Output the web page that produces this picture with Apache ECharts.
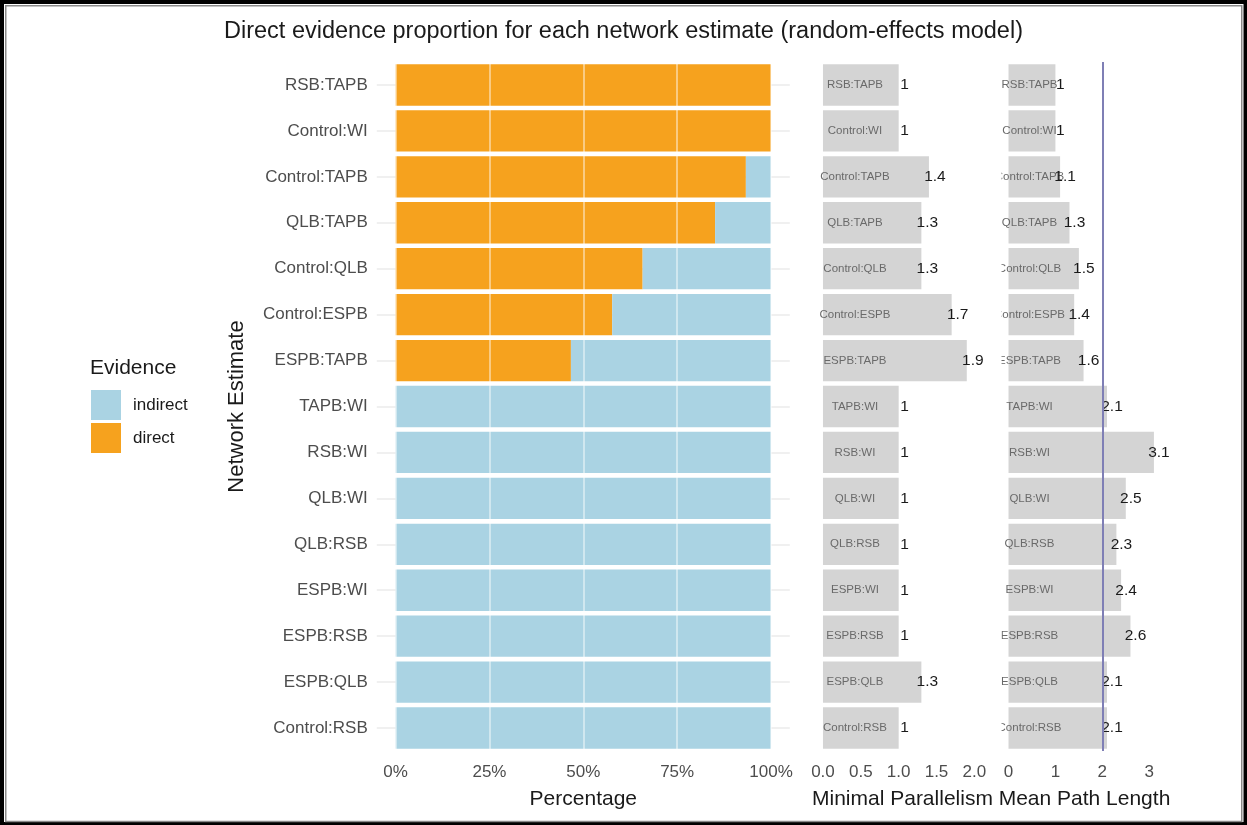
<!DOCTYPE html>
<html>
<head>
<meta charset="utf-8">
<title>Direct evidence proportion</title>
<script src="https://cdn.jsdelivr.net/npm/echarts@6/dist/echarts.min.js"></script>
<style>
  html, body { margin: 0; padding: 0; background: #ffffff; }
  #chart { width: 1247px; height: 825px; }
</style>
</head>
<body>
<div id="chart"></div>
<script>
// Network comparisons, top to bottom
const comparisons = ['RSB:TAPB', 'Control:WI', 'Control:TAPB', 'QLB:TAPB', 'Control:QLB',
  'Control:ESPB', 'ESPB:TAPB', 'TAPB:WI', 'RSB:WI', 'QLB:WI', 'QLB:RSB', 'ESPB:WI',
  'ESPB:RSB', 'ESPB:QLB', 'Control:RSB'];

// Share of each estimate coming from direct / indirect evidence (%)
const directPct   = [100, 100, 93.3, 85.1, 65.8, 57.7, 46.7, 0, 0, 0, 0, 0, 0, 0, 0];
const indirectPct = [0, 0, 6.7, 14.9, 34.2, 42.3, 53.3, 100, 100, 100, 100, 100, 100, 100, 100];

// Minimal parallelism and mean path length per comparison
const minimalParallelism = [1, 1, 1.4, 1.3, 1.3, 1.7, 1.9, 1, 1, 1, 1, 1, 1, 1.3, 1];
const meanPathLength     = [1, 1, 1.1, 1.3, 1.5, 1.4, 1.6, 2.1, 3.1, 2.5, 2.3, 2.4, 2.6, 2.1, 2.1];

// Tick values for the three panels
const pctTicks = [0, 25, 50, 75, 100];
const mpTicks  = [0, 0.5, 1, 1.5, 2];
const mplTicks = [0, 1, 2, 3];
const mplReference = 2;

const FONT = 'Liberation Sans, Arial, sans-serif';
const ORANGE = '#F6A21E';
const LIGHTBLUE = '#AAD3E3';
const GREY = '#D4D4D4';
const TICK_COLOR = '#4d4d4d';

const chart = echarts.init(document.getElementById('chart'), null, { renderer: 'canvas' });

const gridTop = 62, gridHeight = 689;

function hiddenCategoryAxis(gridIndex) {
  return {
    type: 'category', gridIndex: gridIndex, data: comparisons, inverse: true,
    axisLine: { show: false }, axisTick: { show: false }, axisLabel: { show: false },
    splitLine: { show: false }
  };
}

const nameLabel = (offsetX) => ({
  show: true,
  position: [offsetX, '50%'],
  align: 'center', verticalAlign: 'middle',
  formatter: (p) => p.name,
  fontFamily: FONT, fontSize: 11.5, color: '#6a6a6a'
});

const valueLabel = (dx) => ({
  show: true,
  position: ['100%', '50%'],
  offset: [dx, 0],
  align: 'center', verticalAlign: 'middle',
  formatter: (p) => String(p.value),
  fontFamily: FONT, fontSize: 15.5, color: '#1a1a1a'
});

const option = {
  animation: false,
  backgroundColor: '#ffffff',
  textStyle: { fontFamily: FONT },
  title: [
    {
      text: 'Direct evidence proportion for each network estimate (random-effects model)',
      left: 'center', top: 20, padding: 0,
      textStyle: { fontFamily: FONT, fontSize: 23.5, fontWeight: 'normal', color: '#1a1a1a' }
    },
    {
      text: 'Evidence', left: 90, top: 358, padding: 0,
      textStyle: { fontFamily: FONT, fontSize: 21, fontWeight: 'normal', color: '#1a1a1a' }
    }
  ],
  legend: {
    data: ['indirect', 'direct'],
    orient: 'vertical', left: 91, top: 390, padding: 0,
    itemWidth: 30, itemHeight: 30, itemGap: 3,
    icon: 'rect',
    textStyle: { fontFamily: FONT, fontSize: 17, color: '#1a1a1a', padding: [0, 0, 0, 7] },
    selectedMode: false
  },
  grid: [
    { left: 376.8, width: 413, top: gridTop, height: gridHeight },
    { left: 815.4, width: 174.1, top: gridTop, height: gridHeight },
    { left: 1001, width: 167, top: gridTop, height: gridHeight }
  ],
  xAxis: [
    {
      type: 'value', gridIndex: 0, min: -5, max: 105, z: 5,
      name: 'Percentage', nameLocation: 'middle', nameGap: 38,
      nameTextStyle: { fontFamily: FONT, fontSize: 21, color: '#1a1a1a' },
      axisLine: { show: false },
      axisTick: { show: false, customValues: pctTicks },
      axisLabel: { customValues: pctTicks, formatter: (v) => v + '%', margin: 13,
        fontFamily: FONT, fontSize: 17, color: TICK_COLOR },
      splitLine: { show: true, lineStyle: { color: 'rgba(255,255,255,0.6)', width: 1.5 } }
    },
    {
      type: 'value', gridIndex: 1, min: -0.1, max: 2.2,
      name: 'Minimal Parallelism', nameLocation: 'middle', nameGap: 38,
      nameTextStyle: { fontFamily: FONT, fontSize: 21, color: '#1a1a1a' },
      axisLine: { show: false },
      axisTick: { show: false, customValues: mpTicks },
      axisLabel: { customValues: mpTicks, formatter: (v) => v.toFixed(1), margin: 13,
        fontFamily: FONT, fontSize: 17, color: TICK_COLOR },
      splitLine: { show: false }
    },
    {
      type: 'value', gridIndex: 2, min: -0.16, max: 3.4,
      name: 'Mean Path Length', nameLocation: 'middle', nameGap: 38,
      nameTextStyle: { fontFamily: FONT, fontSize: 21, color: '#1a1a1a' },
      axisLine: { show: false },
      axisTick: { show: false, customValues: mplTicks },
      axisLabel: { customValues: mplTicks, formatter: (v) => String(v), margin: 13,
        fontFamily: FONT, fontSize: 17, color: TICK_COLOR },
      splitLine: { show: false }
    }
  ],
  yAxis: [
    {
      type: 'category', gridIndex: 0, data: comparisons, inverse: true,
      name: 'Network Estimate', nameLocation: 'middle', nameGap: 129, nameRotate: 90,
      nameTextStyle: { fontFamily: FONT, fontSize: 22, color: '#1a1a1a' },
      axisLine: { show: false }, axisTick: { show: false },
      axisLabel: { margin: 9, fontFamily: FONT, fontSize: 17, color: TICK_COLOR },
      splitLine: { show: true, alignWithLabel: true, lineStyle: { color: '#EBEBEB', width: 1.5 } }
    },
    hiddenCategoryAxis(1),
    hiddenCategoryAxis(2)
  ],
  series: [
    {
      name: 'direct', type: 'bar', stack: 'evidence', xAxisIndex: 0, yAxisIndex: 0,
      data: directPct, barCategoryGap: '10%',
      itemStyle: { color: ORANGE }
    },
    {
      name: 'indirect', type: 'bar', stack: 'evidence', xAxisIndex: 0, yAxisIndex: 0,
      data: indirectPct, barCategoryGap: '10%',
      itemStyle: { color: LIGHTBLUE }
    },
    {
      name: 'Minimal Parallelism', type: 'bar', xAxisIndex: 1, yAxisIndex: 1,
      data: minimalParallelism, barCategoryGap: '10%', barGap: '-100%',
      itemStyle: { color: GREY },
      label: nameLabel(32)
    },
    {
      name: 'Minimal Parallelism value', type: 'bar', xAxisIndex: 1, yAxisIndex: 1,
      data: minimalParallelism, barCategoryGap: '10%', barGap: '-100%',
      itemStyle: { color: 'rgba(0,0,0,0)' },
      label: valueLabel(6)
    },
    {
      name: 'Mean Path Length', type: 'bar', xAxisIndex: 2, yAxisIndex: 2,
      data: meanPathLength, barCategoryGap: '10%', barGap: '-100%',
      itemStyle: { color: GREY },
      label: nameLabel(21),
      markLine: {
        silent: true, symbol: 'none', label: { show: false },
        lineStyle: { color: '#7F7FB5', width: 2, type: 'solid' },
        data: [{ xAxis: mplReference }]
      }
    },
    {
      name: 'Mean Path Length value', type: 'bar', xAxisIndex: 2, yAxisIndex: 2,
      data: meanPathLength, barCategoryGap: '10%', barGap: '-100%',
      itemStyle: { color: 'rgba(0,0,0,0)' },
      label: valueLabel(5),
      z: 4
    }
  ],
  graphic: [
    // keeps the right panel's row names inside their panel
    { type: 'rect', z: 50, shape: { x: 988, y: gridTop, width: 13.5, height: gridHeight },
      style: { fill: '#ffffff' }, silent: true },
    // double frame around the figure
    { type: 'rect', z: 100, shape: { x: 2, y: 2, width: 1243.5, height: 822 },
      style: { fill: 'none', stroke: '#000000', lineWidth: 4 }, silent: true },
    { type: 'rect', z: 100, shape: { x: 5.75, y: 5.75, width: 1236, height: 815.75 },
      style: { fill: 'none', stroke: '#8a8a8a', lineWidth: 1.5 }, silent: true }
  ]
};

chart.setOption(option);
</script>
</body>
</html>
